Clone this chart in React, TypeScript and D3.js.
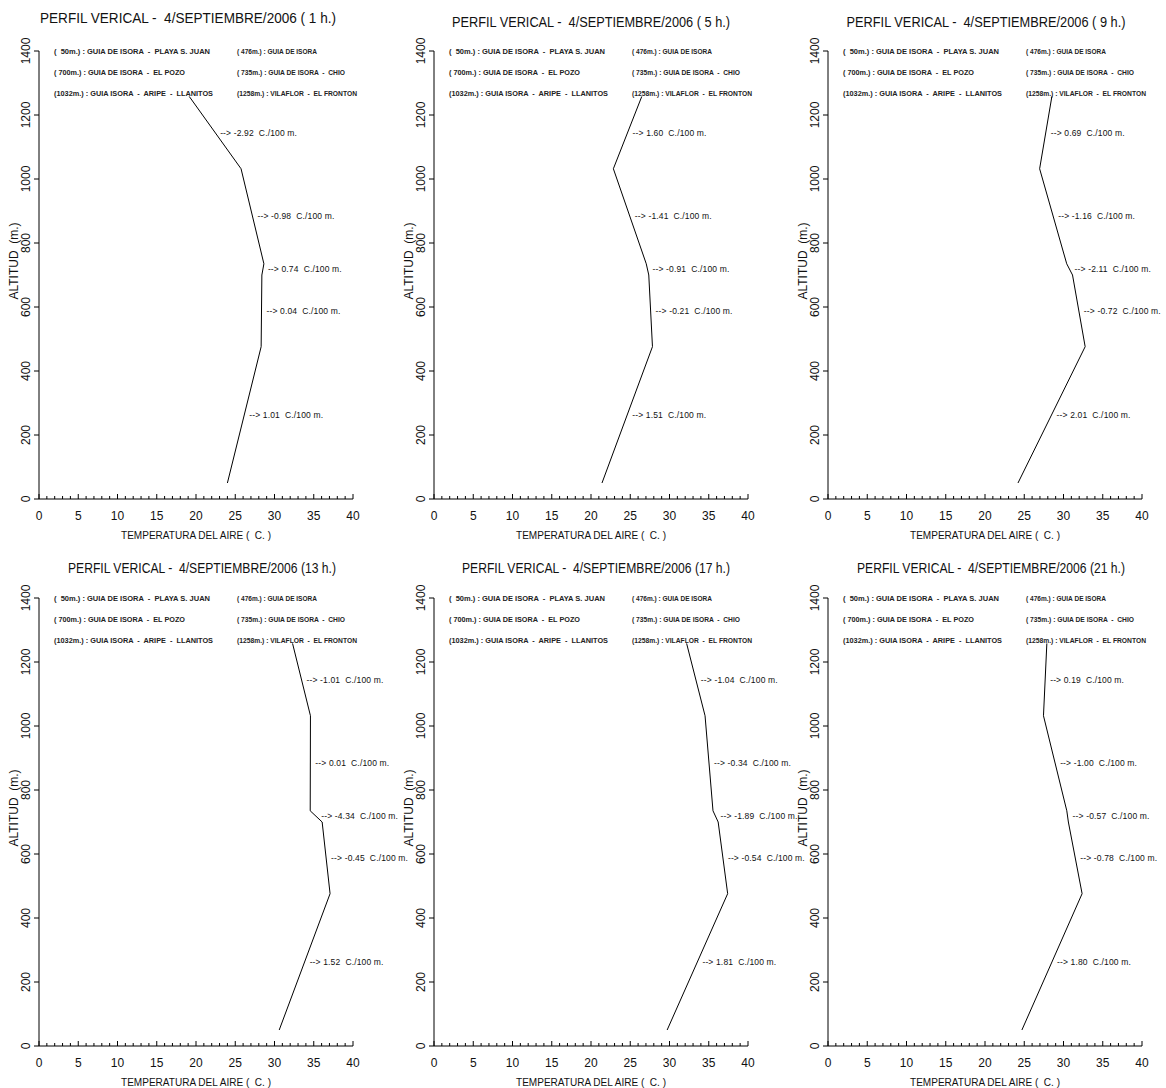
import React from 'react';
import * as d3 from 'd3';

// ---- data ----
const altitudes = [50, 476, 700, 735, 1032, 1258];
const hours = [1, 5, 9, 13, 17, 21];
const temp01h = [24.0, 28.3, 28.39, 28.65, 25.74, 19.14];
const temp05h = [21.4, 27.83, 27.36, 27.04, 22.85, 26.47];
const temp09h = [24.2, 32.76, 31.15, 30.41, 26.96, 28.52];
const temp13h = [30.6, 37.08, 36.07, 34.55, 34.58, 32.3];
const temp17h = [29.7, 37.41, 36.2, 35.54, 34.53, 32.18];
const temp21h = [24.7, 32.37, 30.62, 30.42, 27.45, 27.88];
const grad01h = [1.01, 0.04, 0.74, -0.98, -2.92];
const grad05h = [1.51, -0.21, -0.91, -1.41, 1.6];
const grad09h = [2.01, -0.72, -2.11, -1.16, 0.69];
const grad13h = [1.52, -0.45, -4.34, 0.01, -1.01];
const grad17h = [1.81, -0.54, -1.89, -0.34, -1.04];
const grad21h = [1.8, -0.78, -0.57, -1.0, 0.19];
const yTicks = [0, 200, 400, 600, 800, 1000, 1200, 1400];
const xTicks = [0, 5, 10, 15, 20, 25, 30, 35, 40];
const legendLeft = [
  '(  50m.) : GUIA DE ISORA  -  PLAYA S. JUAN',
  '( 700m.) : GUIA DE ISORA  -  EL POZO',
  '(1032m.) : GUIA ISORA  -  ARIPE  -  LLANITOS',
];
const legendRight = [
  '( 476m.) : GUIA DE ISORA',
  '( 735m.) : GUIA DE ISORA  -  CHIO',
  '(1258m.) : VILAFLOR  -  EL FRONTON',
];
const xTitle = 'TEMPERATURA DEL AIRE (  C. )';
const yTitle = 'ALTITUD  (m.)';

const temps = [temp01h, temp05h, temp09h, temp13h, temp17h, temp21h];
const grads = [grad01h, grad05h, grad09h, grad13h, grad17h, grad21h];

// ---- layout ----
const colX = [39, 434, 828];
const rowBase = [499, 1046];
const plotW = 314;
const plotH = 448;
const legendLeftW = [156, 131, 159];
const legendRightW = [80, 108, 120];
const titleCx = [188, 591, 986, 202, 596, 991];
const titleW = [296, 278, 279, 268, 268, 268];
const titleY = [23, 27, 27, 573, 573, 573];
const FONT = 'Liberation Sans, Arial, sans-serif';

function Panel({ idx }: { idx: number }) {
  const col = idx % 3;
  const row = Math.floor(idx / 3);
  const x0 = colX[col];
  const yb = rowBase[row];
  const x = d3.scaleLinear().domain([0, 40]).range([x0, x0 + plotW]);
  const y = d3.scaleLinear().domain([0, 1400]).range([yb, yb - plotH]);
  const t = temps[idx];
  const g = grads[idx];
  const line = d3
    .line<number>()
    .x((d, i) => x(t[i]))
    .y((d) => y(d));
  const h = hours[idx];
  const title = `PERFIL VERICAL -  4/SEPTIEMBRE/2006 (${h < 10 ? ' ' + h : h} h.)`;
  const top = y(1400);
  const minor = x.ticks(40);
  return (
    <g>
      <text
        x={titleCx[idx]}
        y={titleY[idx]}
        textAnchor="middle"
        fontSize={14}
        fontFamily={FONT}
        textLength={titleW[idx]}
        lengthAdjust="spacingAndGlyphs"
        fill="#111"
        style={{ whiteSpace: 'pre' }}
      >
        {title}
      </text>
      {legendLeft.map((s, i) => (
        <text
          key={'l' + i}
          x={x0 + 15}
          y={top + 3 + i * 21}
          fontSize={7.5}
          fontWeight="bold"
          fontFamily={FONT}
          textLength={legendLeftW[i]}
          lengthAdjust="spacingAndGlyphs"
          fill="#222"
          style={{ whiteSpace: 'pre' }}
        >
          {s}
        </text>
      ))}
      {legendRight.map((s, i) => (
        <text
          key={'r' + i}
          x={x0 + 198}
          y={top + 3 + i * 21}
          fontSize={7.5}
          fontWeight="bold"
          fontFamily={FONT}
          textLength={legendRightW[i]}
          lengthAdjust="spacingAndGlyphs"
          fill="#222"
          style={{ whiteSpace: 'pre' }}
        >
          {s}
        </text>
      ))}
      {/* axes */}
      <line x1={x0} x2={x0} y1={y(0)} y2={y(1400)} stroke="#000" strokeWidth={1} />
      <line x1={x0} x2={x(40)} y1={yb} y2={yb} stroke="#000" strokeWidth={1} />
      {yTicks.map((v) => (
        <g key={'yt' + v}>
          <line x1={x0 - 5} x2={x0} y1={y(v)} y2={y(v)} stroke="#000" strokeWidth={1} />
          <text
            transform={`translate(${x0 - 9},${y(v)}) rotate(-90)`}
            textAnchor="middle"
            fontSize={12}
            fontFamily={FONT}
            fill="#111"
          >
            {v}
          </text>
        </g>
      ))}
      {minor.map((v) => (
        <line
          key={'xm' + v}
          x1={x(v)}
          x2={x(v)}
          y1={yb}
          y2={yb - (v % 5 === 0 ? 5 : 3)}
          stroke="#000"
          strokeWidth={1}
        />
      ))}
      {xTicks.map((v) => (
        <text
          key={'xt' + v}
          x={x(v)}
          y={yb + 21}
          textAnchor="middle"
          fontSize={12}
          fontFamily={FONT}
          fill="#111"
        >
          {v}
        </text>
      ))}
      <text
        x={x(20)}
        y={yb + 40}
        textAnchor="middle"
        fontSize={11}
        fontFamily={FONT}
        textLength={150}
        lengthAdjust="spacingAndGlyphs"
        fill="#111"
        style={{ whiteSpace: 'pre' }}
      >
        {xTitle}
      </text>
      <text
        transform={`translate(${x0 - 21},${yb - 238}) rotate(-90)`}
        textAnchor="middle"
        fontSize={12}
        fontFamily={FONT}
        fill="#111"
        style={{ whiteSpace: 'pre' }}
      >
        {yTitle}
      </text>
      {/* profile */}
      <path d={line(altitudes) || ''} fill="none" stroke="#000" strokeWidth={1} />
      {g.map((v, i) => {
        const ma = (altitudes[i] + altitudes[i + 1]) / 2;
        const mt = (t[i] + t[i + 1]) / 2;
        return (
          <text
            key={'g' + i}
            x={x(mt) + 5}
            y={y(ma) + 3}
            fontSize={8.5}
            letterSpacing={0.15}
            fontFamily={FONT}
            fill="#111"
            style={{ whiteSpace: 'pre' }}
          >
            {`--> ${v.toFixed(2)}  C./100 m.`}
          </text>
        );
      })}
    </g>
  );
}

export default function App() {
  return (
    <svg
      width={1166}
      height={1088}
      style={{ position: 'absolute', left: 0, top: 0, background: '#fff' }}
    >
      <rect width={1166} height={1088} fill="#fff" />
      {hours.map((h, i) => (
        <Panel key={h} idx={i} />
      ))}
    </svg>
  );
}
